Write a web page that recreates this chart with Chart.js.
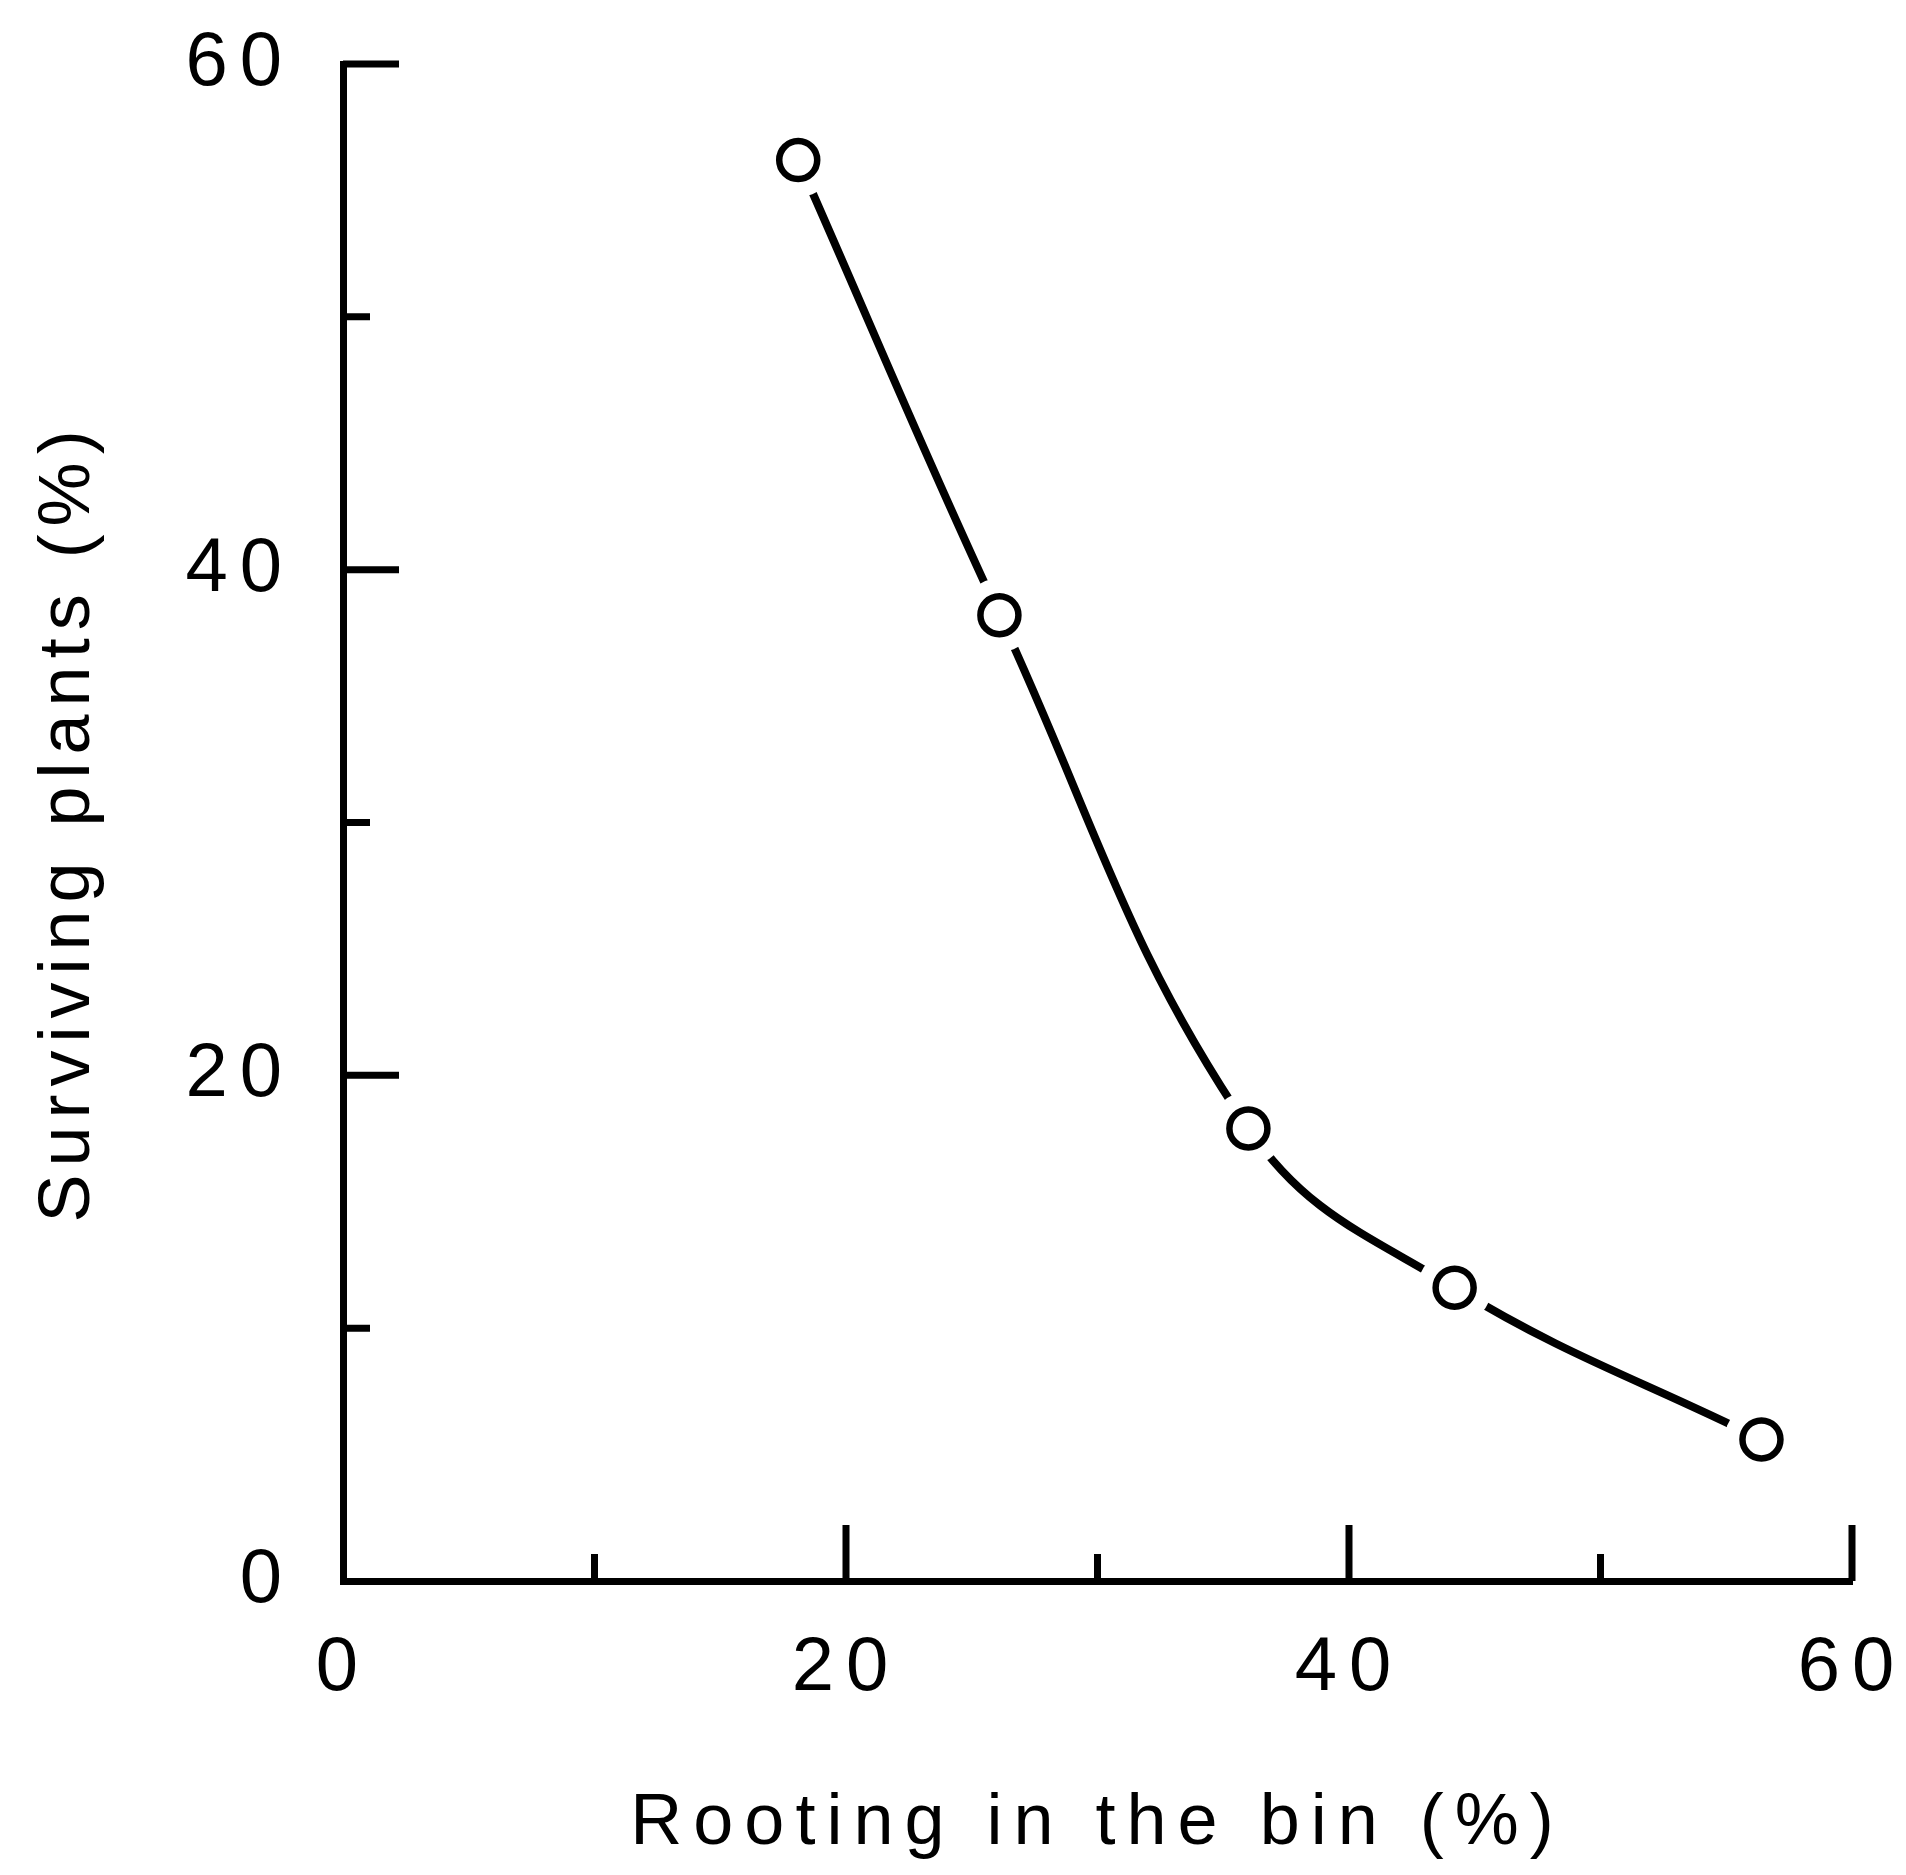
<!DOCTYPE html>
<html>
<head>
<meta charset="utf-8">
<title>Surviving plants</title>
<script src="https://cdn.jsdelivr.net/npm/chart.js@4.4.1/dist/chart.umd.min.js"></script>
<style>
  body { margin: 0; background: #fff; }
  canvas { display: block; }
</style>
</head>
<body>
<canvas id="g_survie" width="1906" height="1875"></canvas>
<script>
// valeurs
const rooting = [18.1, 26.1, 36.0, 44.2, 56.4];
const surviving = [56.2, 38.2, 17.9, 11.6, 5.6];
const labelledTicks = [0, 20, 40, 60];
const xTitle = 'Rooting in the bin (%)';
const yTitle = 'Surviving plants (%)';

const police = '"Liberation Sans", Arial, sans-serif';

// espacement des lettres des graduations (le contexte est remis à zéro au resize)
const espacement = {
    id: 'espacement',
    beforeUpdate(chart) { chart.ctx.letterSpacing = '12px'; },
    beforeDraw(chart) { chart.ctx.letterSpacing = '12px'; }
};

// graduations tournées vers l'intérieur, longues tous les 20
const graduations = {
    id: 'graduations',
    beforeDatasetsDraw(chart) {
        let ctx = chart.ctx;
        let xs = chart.scales.x;
        let ys = chart.scales.y;
        let area = chart.chartArea;
        ctx.save();
        ctx.strokeStyle = '#000';
        ctx.lineWidth = 7;
        ctx.beginPath();
        xs.ticks.forEach(t => {
            if (t.value === 0) return;
            let px = xs.getPixelForValue(t.value);
            let len = labelledTicks.includes(t.value) ? 56 : 27;
            ctx.moveTo(px, area.bottom);
            ctx.lineTo(px, area.bottom - len);
        });
        ys.ticks.forEach(t => {
            if (t.value === 0) return;
            let py = ys.getPixelForValue(t.value);
            let len = labelledTicks.includes(t.value) ? 56 : 27;
            ctx.moveTo(area.left, py);
            ctx.lineTo(area.left + len, py);
        });
        ctx.stroke();
        ctx.restore();
    }
};

// taille fixe de l'axe, sans marge ajoutée pour les étiquettes,
// et un espacement propre au titre de l'axe
function fixerAxe(taille, espaceTitre) {
    return function(s) {
        if (s.isHorizontal()) {
            s.height = taille;
            s.paddingLeft = 0;
            s.paddingRight = 0;
        } else {
            s.width = taille;
            s.paddingTop = 0;
            s.paddingBottom = 0;
        }
        if (!s._titreEspace) {
            let drawTitle = s.drawTitle;
            s.drawTitle = function() {
                this.ctx.letterSpacing = espaceTitre;
                drawTitle.call(this);
                this.ctx.letterSpacing = '12px';
            };
            s._titreEspace = true;
        }
    };
}

function axe(titre, fixer, titlePadding, tickPadding) {
    return {
        type: 'linear',
        min: 0,
        max: 60,
        afterFit: fixer,
        grid: { display: false, drawTicks: false },
        border: { display: true, color: '#000', width: 7 },
        ticks: {
            stepSize: 10,
            color: '#000',
            padding: tickPadding,
            font: { family: police, size: 76 },
            callback: v => labelledTicks.includes(v) ? String(v) : ''
        },
        title: {
            display: true,
            text: titre,
            color: '#000',
            padding: titlePadding,
            font: { family: police, size: 72 }
        }
    };
}

function dessiner() {
    let context = document.getElementById('g_survie').getContext('2d');
    let points = rooting.map((x, i) => ({ x: x, y: surviving[i] }));

    let conData = {
        datasets: [{
            // cercles
            data: points,
            pointRadius: 19,
            pointBorderWidth: 6.5,
            pointBorderColor: '#000',
            pointBackgroundColor: '#fff',
            order: 1
        }, {
            // blanc autour des cercles pour couper la courbe
            data: points,
            pointRadius: 37,
            pointBorderWidth: 0,
            pointBackgroundColor: '#fff',
            order: 2
        }, {
            // courbe ajustée
            data: points,
            showLine: true,
            borderColor: '#000',
            borderWidth: 8,
            pointRadius: 0,
            tension: 0.4,
            order: 3
        }]
    };

    let options = {
        responsive: false,
        animation: false,
        layout: { padding: { top: 64, right: 54, left: 0, bottom: 0 } },
        plugins: {
            legend: { display: false },
            tooltip: { enabled: false }
        },
        scales: {
            x: axe(xTitle, fixerAxe(294, '11px'), { bottom: 8 }, 42),
            y: axe(yTitle, fixerAxe(343, '8px'), { top: 26 }, 49)
        }
    };

    new Chart(context, {
        type: 'scatter',
        data: conData,
        options: options,
        plugins: [espacement, graduations]
    });
}

window.addEventListener('load', dessiner);
</script>
</body>
</html>
